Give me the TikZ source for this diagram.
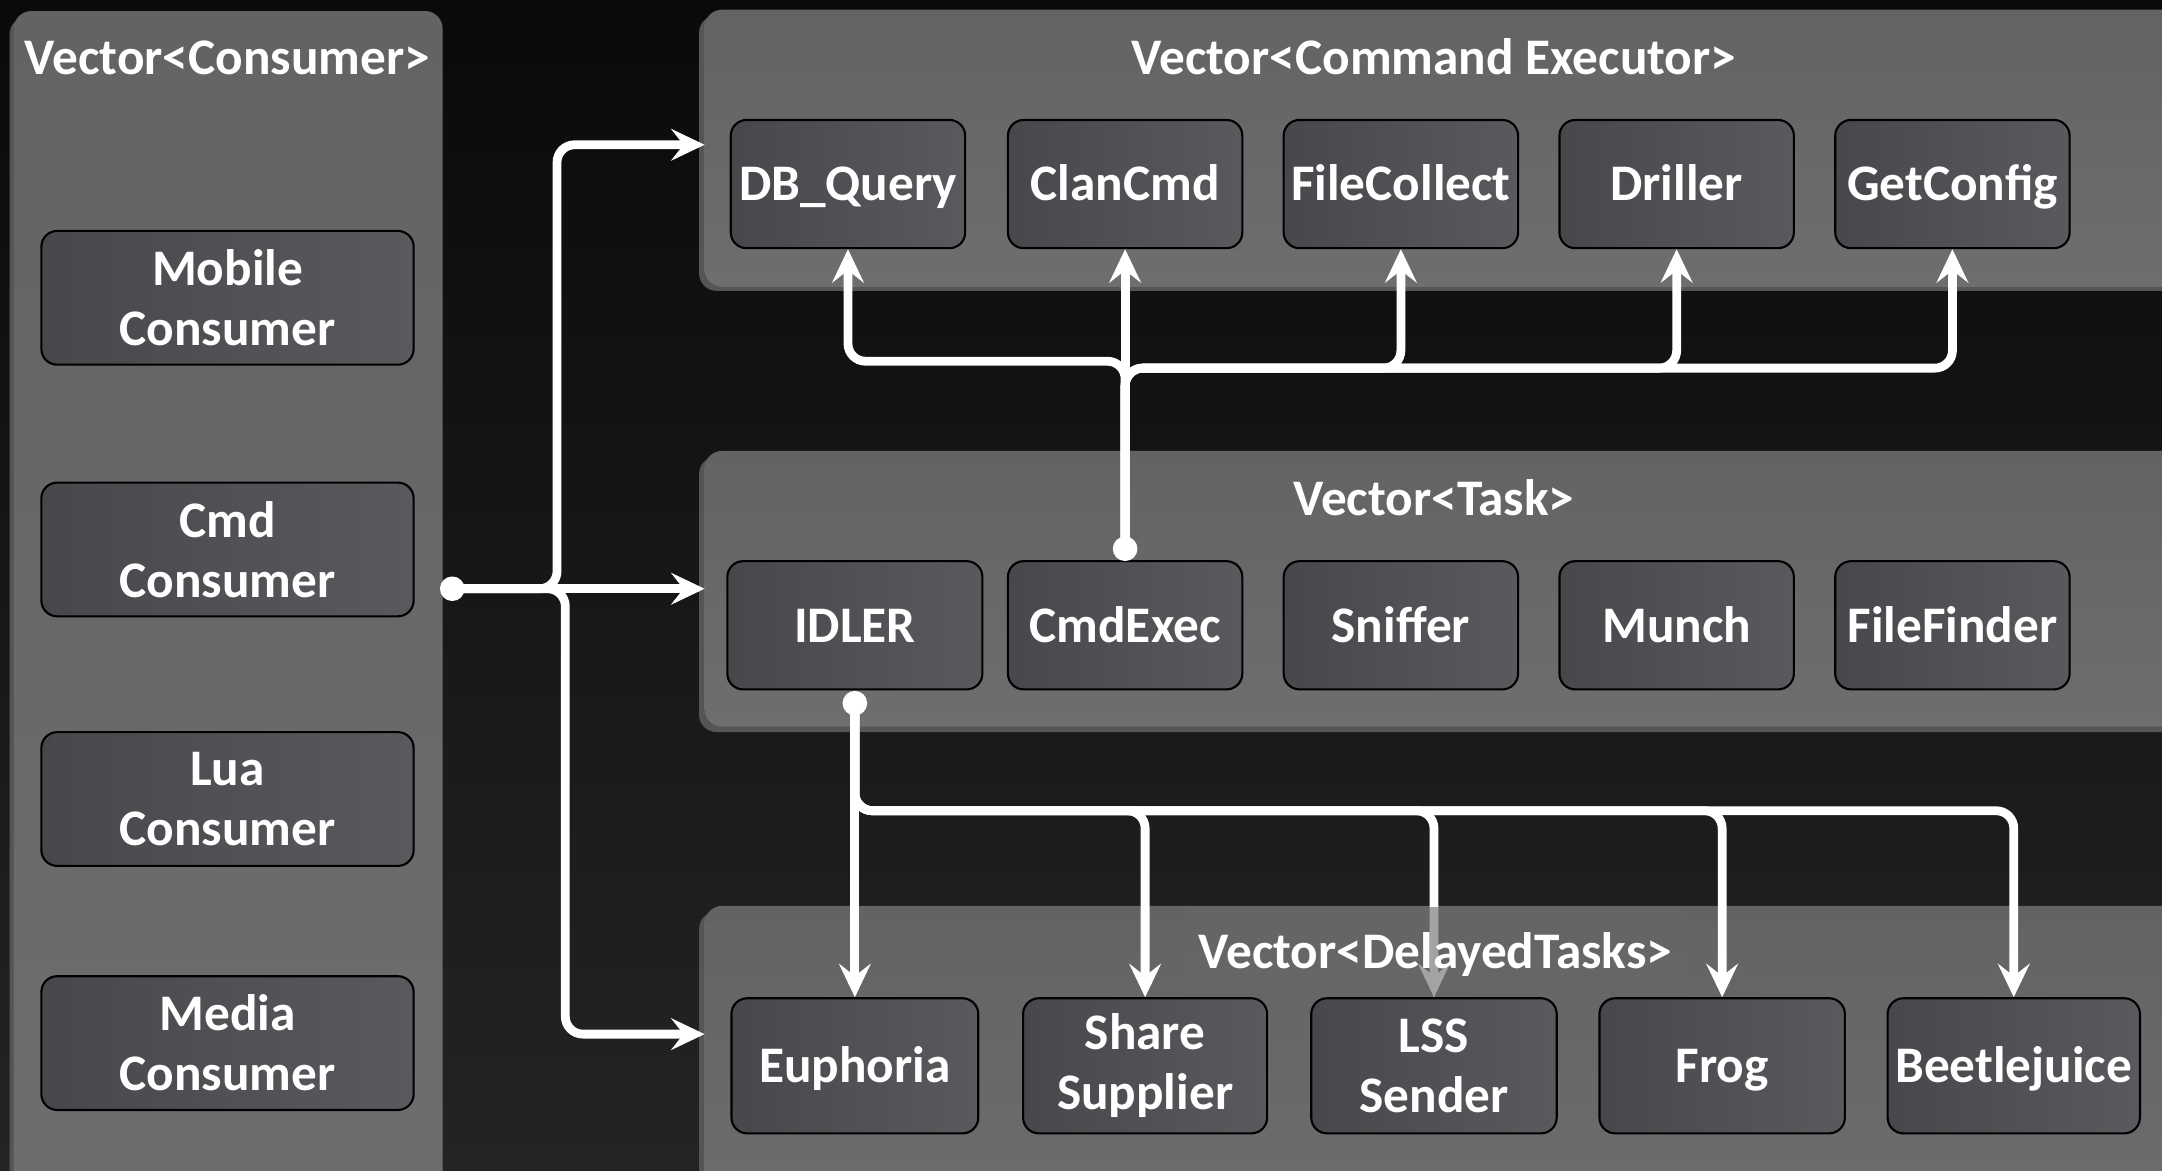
\documentclass[tikz,border=0pt]{standalone}
\usepackage{fontspec}
\setmainfont{Carlito}
\usetikzlibrary{arrows.meta}
\newcommand\ux{0.013788cm}
\definecolor{bgT}{HTML}{0A0A0A}
\definecolor{bgB}{HTML}{242424}
\definecolor{contT}{HTML}{636363}
\definecolor{contB}{HTML}{6E6E6E}
\definecolor{contS}{HTML}{555555}
\definecolor{boxL}{HTML}{48474C}
\definecolor{boxR}{HTML}{5A595E}
\begin{document}
\begin{tikzpicture}[x=0.013788cm,y=-0.013788cm,
  font={\fontsize{14.6}{17.1}\selectfont\bfseries},
  cont/.style={rounded corners=5pt, top color=contT, bottom color=contB},
  contshadow/.style={rounded corners=5pt, fill=contS},
  box/.style={draw=black, line width=0.6pt, rounded corners=4.5pt,
    left color=boxL, right color=boxR, text=white, align=center, inner sep=0pt},
  one/.style={text height=9.6pt, text depth=0pt},
  sbox/.style={box, one, minimum width=170*\ux, minimum height=93*\ux},
  dbox/.style={box, minimum width=178*\ux, minimum height=98*\ux},
  cbox/.style={box, minimum width=270*\ux, minimum height=97*\ux},
  ttl/.style={text=white, inner sep=0pt},
  conn/.style={draw=white, line width=2.5pt, rounded corners=5pt},
  arr/.style={conn, -{Stealth[length=9.5pt,width=9pt,inset=3.5pt]}},
  dot/.style={fill=white}
]
\useasboundingbox (0,0) rectangle (1568,849);
\clip (0,0) rectangle (1568,849);
\shade[top color=bgT, bottom color=bgB] (0,0) rectangle (1568,849);

% containers
\fill[contshadow] (7,12) rectangle (318,900);
\path[cont] (10,8) rectangle (321,900);
\fill[contshadow] (507,11) rectangle (1600,211);
\path[cont] (511,7) rectangle (1600,208);
\fill[contshadow] (507,331) rectangle (1600,531);
\path[cont] (511,327) rectangle (1600,527);
\fill[contshadow] (507,661) rectangle (1600,900);
\path[cont] (511,657) rectangle (1600,900);

% titles
\node[ttl, one] (tcons) at (165,42) {Vector<Consumer>};
\node[ttl, one] (texec) at (1040,42) {Vector<Command Executor>};
\node[ttl, one] (ttask) at (1040,362) {Vector<Task>};

% consumer boxes
\node[cbox] (mob) at (165,216) {Mobile\\Consumer};
\node[cbox] (cmdc) at (165,398.5) {Cmd\\Consumer};
\node[cbox] (lua) at (165,579.5) {Lua\\Consumer};
\node[cbox] (media) at (165,756.5) {Media\\Consumer};

% executor boxes
\node[sbox] (dbq) at (615,133.5) {DB\_Query};
\node[sbox] (clan) at (816,133.5) {ClanCmd};
\node[sbox] (fc) at (1016,133.5) {FileCollect};
\node[sbox] (drl) at (1216,133.5) {Driller};
\node[sbox] (gc) at (1416,133.5) {GetConfig};

% task boxes
\node[sbox, minimum width=185*\ux] (idler) at (620,453.5) {IDLER};
\node[sbox] (cmdexec) at (816,453.5) {CmdExec};
\node[sbox] (sniff) at (1016,453.5) {Sniffer};
\node[sbox] (munch) at (1216,453.5) {Munch};
\node[sbox] (ff) at (1416,453.5) {FileFinder};

% delayed boxes
\node[dbox, one, minimum width=179*\ux] (euph) at (620,773) {Euphoria};
\node[dbox, minimum width=177*\ux] (share) at (830.5,773) {Share\\Supplier};
\node[dbox] (lss) at (1040,773) {LSS\\Sender};
\node[dbox, one] (frog) at (1249,773) {Frog};
\node[dbox, one, minimum width=183*\ux] (beetle) at (1460.5,773) {Beetlejuice};

% consumer connectors
\coordinate (c0) at (328,427);
\coordinate (execIn) at (511,105);
\coordinate (taskIn) at (511,427);
\coordinate (delIn) at (511,750);
\draw[arr] (c0) -- (taskIn);
\draw[arr] (c0) -| (404,105) -- (execIn);
\draw[arr] (c0) -| (410,750) -- (delIn);
\fill[dot] (c0) circle (3.5pt);

% command executor connectors
\coordinate (d1) at (816,398);
\coordinate (h1) at (0,262);
\coordinate (h2) at (0,267);
\draw[arr] (d1) -- (clan.south);
\draw[arr] (d1) |- (dbq.south |- h1) -- (dbq.south);
\draw[arr] (d1) |- (fc.south |- h2) -- (fc.south);
\draw[arr] (d1) |- (drl.south |- h2) -- (drl.south);
\draw[arr] (d1) |- (gc.south |- h2) -- (gc.south);
\fill[dot] (d1) circle (3.5pt);

% delayed task connectors
\coordinate (d2) at (620,510);
\coordinate (h3) at (0,588);
\draw[arr] (d2) -- (euph.north);
\draw[arr] (d2) |- (share.north |- h3) -- (share.north);
\draw[arr] (d2) |- (lss.north |- h3) -- (lss.north);
\draw[arr] (d2) |- (frog.north |- h3) -- (frog.north);
\draw[arr] (d2) |- (beetle.north |- h3) -- (beetle.north);
\fill[dot] (d2) circle (3.5pt);

% delayed title (semi-opaque backing, as in the reference)
\node[ttl, one, fill=contT!60!contB, fill opacity=0.6, text opacity=1,
  minimum width=356*\ux, minimum height=64*\ux] (tdel) at (1041,690) {Vector<DelayedTasks>};
\end{tikzpicture}
\end{document}
